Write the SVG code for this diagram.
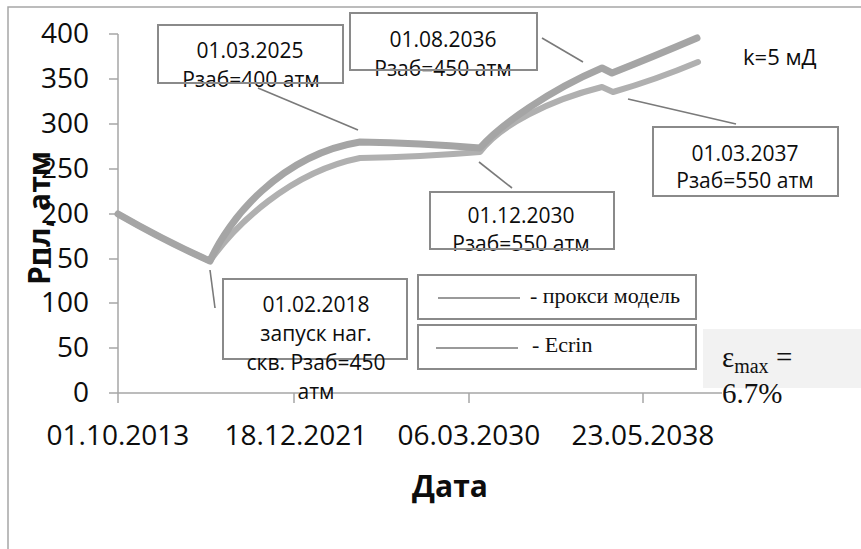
<svg xmlns="http://www.w3.org/2000/svg" width="861" height="549" viewBox="0 0 861 549">
<style>
.sans{font-family:"Open Sans","DejaVu Sans",sans-serif;fill:#0d0d0d}
.tick{font-size:28px}
.call{font-size:21px;text-anchor:middle}
.box{fill:none;stroke:#8a8a8a;stroke-width:2}
.lead{stroke:#7a7a7a;stroke-width:1.6;fill:none}
.axis{stroke:#a6a6a6;stroke-width:1.5;fill:none}
.ser{font-family:"Liberation Serif","Times New Roman",serif;fill:#111}
.curve{fill:none;stroke-linecap:round;stroke-linejoin:round}
</style>
<rect x="0" y="0" width="861" height="549" fill="#fff"/>
<path d="M8,560 V7 H861" fill="none" stroke="#a6a6a6" stroke-width="1.5"/>

<g id="axes">
<path class="axis" d="M118,34 V393 M109,34 H118 M109,79 H118 M109,124 H118 M109,169 H118 M109,214 H118 M109,259 H118 M109,303 H118 M109,348 H118 M109,393 H722 M118,393 V403 M294,393 V403 M469,393 V403 M643,393 V403"/>
<g class="sans tick" text-anchor="end">
<text x="89" y="43">400</text>
<text x="89" y="88">350</text>
<text x="89" y="133">300</text>
<text x="89" y="178">250</text>
<text x="89" y="223">200</text>
<text x="89" y="268">150</text>
<text x="89" y="312">100</text>
<text x="89" y="357">50</text>
<text x="89" y="402">0</text>
</g>
<g class="sans tick" text-anchor="middle">
<text x="118" y="445">01.10.2013</text>
<text x="296" y="445">18.12.2021</text>
<text x="469" y="445">06.03.2030</text>
<text x="643" y="445">23.05.2038</text>
</g>
<text class="sans" x="450" y="497" font-size="30" font-weight="bold" text-anchor="middle">Дата</text>
<text class="sans" x="0" y="0" font-size="30" font-weight="bold" text-anchor="middle" transform="translate(50,218) rotate(-90)">Рпл, атм</text>
</g>

<g id="series">
<path class="curve" stroke="#b0b0b0" stroke-width="6" d="M118,214 Q165,241 210,261 C235,225 290,172 360,158 Q420,157 480,152 C500,125 550,100 602,87 L613,92 Q655,80 698,62"/>
<path class="curve" stroke="#a5a5a5" stroke-width="7" d="M118,214 Q165,241 210,261 C228,220 280,155 360,142 Q420,143 480,148 C500,125 550,90 602,68 L612,73 Q650,58 697,38"/>
</g>

<g id="connectors">
<line class="lead" x1="258" y1="88" x2="358" y2="130"/>
<line class="lead" x1="542" y1="38" x2="583" y2="62"/>
<line class="lead" x1="479" y1="162" x2="512" y2="188"/>
<line class="lead" x1="628" y1="99" x2="736" y2="124"/>
<line class="lead" x1="210" y1="270" x2="215" y2="308"/>
</g>

<g id="c2025">
<text class="sans call" x="250" y="58">01.03.2025</text>
<text class="sans call" x="251" y="87">Рзаб=400 атм</text>
<rect class="box" x="158" y="25" width="185" height="58"/>
</g>
<g id="c2036">
<text class="sans call" x="443" y="47">01.08.2036</text>
<text class="sans call" x="443" y="76">Рзаб=450 атм</text>
<rect class="box" x="350" y="13" width="187" height="57"/>
</g>
<g id="c2030">
<text class="sans call" x="521" y="223">01.12.2030</text>
<text class="sans call" x="521" y="251">Рзаб=550 атм</text>
<rect class="box" x="430" y="192" width="184" height="57"/>
</g>
<g id="c2037">
<rect class="box" x="653" y="127" width="185" height="69"/>
<text class="sans call" x="745" y="161">01.03.2037</text>
<text class="sans call" x="745" y="188">Рзаб=550 атм</text>
</g>
<g id="c2018">
<rect class="box" x="223" y="279" width="184" height="80"/>
<text class="sans call" x="316" y="312">01.02.2018</text>
<text class="sans call" x="316" y="341">запуск наг.</text>
<text class="sans call" x="316" y="370">скв. Рзаб=450</text>
<text class="sans call" x="316" y="399">атм</text>
</g>

<g id="legend">
<rect class="box" x="418" y="275" width="278" height="44"/>
<line x1="438" y1="298" x2="520" y2="298" stroke="#9a9a9a" stroke-width="2"/>
<text class="ser" x="530" y="303" font-size="22">- прокси модель</text>
<rect class="box" x="418" y="325" width="278" height="44"/>
<line x1="436" y1="348" x2="518" y2="348" stroke="#9a9a9a" stroke-width="2"/>
<text class="ser" x="532" y="352" font-size="22">- Ecrin</text>
</g>

<g id="kval">
<text class="sans" x="743" y="65" font-size="22">k=5 мД</text>
</g>

<g id="emax">
<rect x="703" y="329" width="158" height="59" fill="#f2f2f2"/>
<text class="ser" x="722" y="367" font-size="29">ε<tspan font-size="20" dy="6">max</tspan><tspan dy="-6"> =</tspan></text>
<text class="ser" x="722" y="403" font-size="29">6.7%</text>
</g>
</svg>
